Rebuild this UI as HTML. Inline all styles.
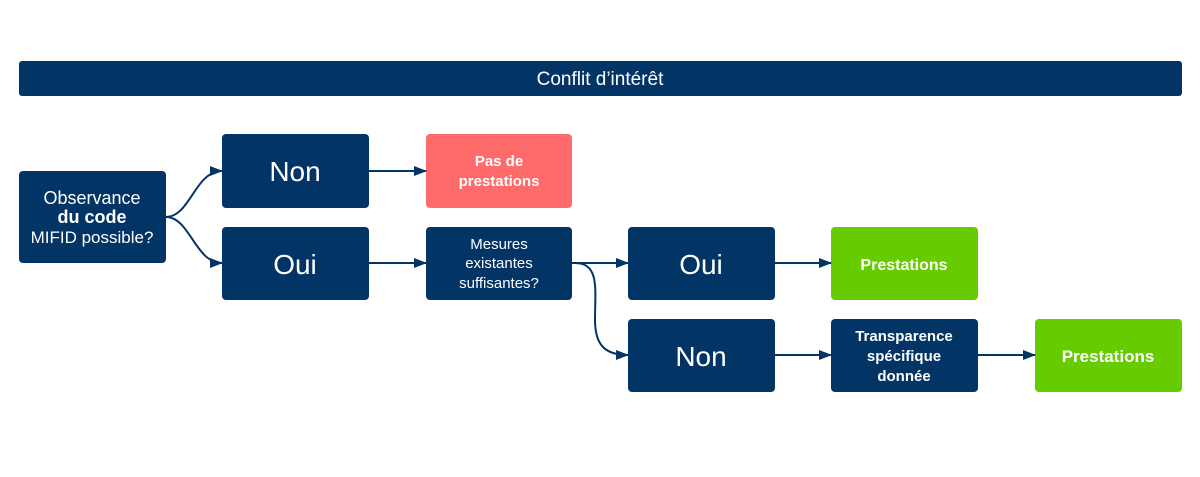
<!DOCTYPE html>
<html><head><meta charset="utf-8"><style>
body{margin:0;background:#fff;}
svg{display:block;font-family:"Liberation Sans","DejaVu Sans",sans-serif;}
</style></head><body>
<svg width="1200" height="477" viewBox="0 0 1200 477" xmlns="http://www.w3.org/2000/svg">
<defs><marker id="a" markerWidth="13" markerHeight="10" refX="12" refY="5" orient="auto" markerUnits="userSpaceOnUse"><path d="M0,0 L13,5 L0,10 Z" fill="#033466"/></marker></defs>
<rect x="19" y="61" width="1163" height="35" rx="3" fill="#033466"/>
<text x="600" y="85" fill="#fff" font-size="19" text-anchor="middle">Conflit d’intérêt</text>
<g fill="#033466">
<rect x="19" y="171" width="147" height="92" rx="4"/>
<rect x="222" y="134" width="147" height="74" rx="4"/>
<rect x="222" y="227" width="147" height="73" rx="4"/>
<rect x="426" y="227" width="146" height="73" rx="4"/>
<rect x="628" y="227" width="147" height="73" rx="4"/>
<rect x="628" y="319" width="147" height="73" rx="4"/>
<rect x="831" y="319" width="147" height="73" rx="4"/>
</g>
<rect x="426" y="134" width="146" height="74" rx="4" fill="#ff6b6b"/>
<rect x="831" y="227" width="147" height="73" rx="4" fill="#66cc00"/>
<rect x="1035" y="319" width="147" height="73" rx="4" fill="#66cc00"/>
<g stroke="#033466" stroke-width="2" fill="none" marker-end="url(#a)">
<path d="M166,217 C190,217 195,171 222,171"/>
<path d="M166,217 C190,217 195,263 222,263"/>
<path d="M369,171 L426,171"/>
<path d="M369,263 L426,263"/>
<path d="M572,263 L628,263"/>
<path d="M575,263 C600,263 595,290 595,320 C595,345 605,355 628,355"/>
<path d="M775,263 L831,263"/>
<path d="M775,355 L831,355"/>
<path d="M978,355 L1035,355"/>
</g>
<g fill="#fff" text-anchor="middle">
<text x="92" y="204" font-size="18">Observance</text>
<text x="92" y="223" font-size="18" font-weight="bold">du code</text>
<text x="92" y="243" font-size="17">MIFID possible?</text>
<text x="295" y="181" font-size="28">Non</text>
<text x="295" y="274" font-size="28">Oui</text>
<text x="701" y="274" font-size="28">Oui</text>
<text x="701" y="366" font-size="28">Non</text>
<text x="499" y="166" font-size="15" font-weight="bold">Pas de</text>
<text x="499" y="186" font-size="15" font-weight="bold">prestations</text>
<text x="499" y="249" font-size="15">Mesures</text>
<text x="499" y="268" font-size="15">existantes</text>
<text x="499" y="288" font-size="15">suffisantes?</text>
<text x="904" y="270" font-size="16" font-weight="bold">Prestations</text>
<text x="904" y="341" font-size="15" font-weight="bold">Transparence</text>
<text x="904" y="361" font-size="15" font-weight="bold">spécifique</text>
<text x="904" y="381" font-size="15" font-weight="bold">donnée</text>
<text x="1108" y="362" font-size="17" font-weight="bold">Prestations</text>
</g>
</svg>
</body></html>
